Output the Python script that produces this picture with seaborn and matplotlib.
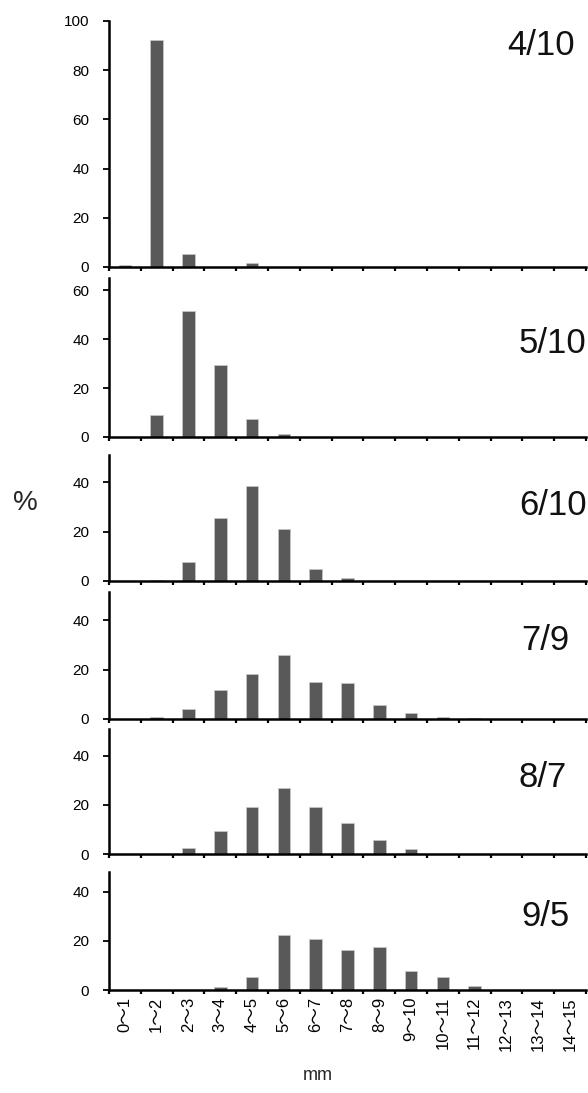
import matplotlib
matplotlib.use("Agg")
import matplotlib.pyplot as plt
import seaborn as sns
import numpy as np

sns.set_style("white")
plt.rcParams["font.family"] = ["Liberation Sans", "Noto Sans CJK JP", "DejaVu Sans"]

# ---- data ----
categories = ["0〜1", "1〜2", "2〜3", "3〜4", "4〜5", "5〜6", "6〜7", "7〜8",
              "8〜9", "9〜10", "10〜11", "11〜12", "12〜13", "13〜14", "14〜15"]
dates = ["4/10", "5/10", "6/10", "7/9", "8/7", "9/5"]
apr10 = [0.8, 92.3, 5.2, 0, 1.6, 0, 0, 0, 0, 0, 0, 0, 0, 0, 0]
may10 = [0, 8.9, 51.7, 29.3, 7.3, 1.1, 0, 0, 0, 0, 0, 0, 0, 0, 0]
jun10 = [0, 0.5, 7.7, 25.5, 38.4, 21.0, 5.0, 1.2, 0, 0, 0, 0, 0, 0, 0]
jul9 = [0, 0.7, 3.9, 11.6, 18.1, 25.9, 14.9, 14.6, 5.8, 2.4, 0.7, 0.5, 0, 0, 0]
aug7 = [0, 0, 2.3, 9.3, 19.2, 26.9, 19.2, 12.7, 5.6, 2.0, 0, 0, 0, 0, 0]
sep5 = [0, 0, 0, 1.1, 5.2, 22.5, 20.8, 16.3, 17.5, 7.6, 5.2, 1.5, 0, 0, 0]
series = [apr10, may10, jun10, jul9, aug7, sep5]
yticks = [[0, 20, 40, 60, 80, 100], [0, 20, 40, 60], [0, 20, 40],
          [0, 20, 40], [0, 20, 40], [0, 20, 40]]
ytops = [100, 65, 51, 51.5, 51, 48]

# ---- layout (pixels) ----
W, H = 588, 1093
left_px, right_px = 109, 586
panel_px = [(21, 267), (278, 437), (455, 581), (592, 719), (729, 854), (872, 990)]
label_pos = [(0.905, 0.90), (0.93, 0.59), (0.93, 0.60),
             (0.915, 0.62), (0.91, 0.61), (0.915, 0.62)]

fig = plt.figure(figsize=(W / 100, H / 100), dpi=100)
bar_color = "#595959"

for i, (vals, date) in enumerate(zip(series, dates)):
    top, bot = panel_px[i]
    ax = fig.add_axes([left_px / W, 1 - bot / H, (right_px - left_px) / W, (bot - top) / H])
    sns.barplot(x=categories, y=vals, ax=ax, color=bar_color, width=0.4,
                saturation=1, edgecolor="#c8c8c8", linewidth=0.5)
    ax.set_xlim(-0.5, 14.5)
    ax.set_ylim(0, ytops[i])
    ax.set_yticks(yticks[i])
    ax.set_yticklabels([str(t) for t in yticks[i]])
    ax.set_xticks(np.arange(-0.5, 15, 1))
    ax.set_xticklabels([])
    ax.set_xlabel("")
    ax.set_ylabel("")
    for s in ["top", "right"]:
        ax.spines[s].set_visible(False)
    for s in ["left", "bottom"]:
        ax.spines[s].set_color("black")
        ax.spines[s].set_linewidth(1.8)
    ax.tick_params(axis="y", which="major", direction="out", length=4.3, width=1.3,
                   pad=10, labelsize=11, colors="black", left=True)
    ax.tick_params(axis="x", which="major", direction="out", length=3, width=1.6,
                   colors="black", bottom=True)
    ax.text(label_pos[i][0], label_pos[i][1], date, transform=ax.transAxes,
            ha="center", va="center", fontsize=25, color="#111111")
    if i == len(series) - 1:
        ax.set_xticks(np.arange(15), minor=True)
        ax.set_xticklabels(categories, minor=True, rotation=90, fontsize=12,
                           va="top", ha="center")
        ax.tick_params(axis="x", which="minor", length=0, pad=5, colors="black")

fig.text(25 / W, 1 - 503 / H, "%", fontsize=20, ha="center", va="center")
fig.text(318 / W, 1 - 1075 / H, "mm", fontsize=13, ha="center", va="center")

fig.savefig("out.png", dpi=100)
